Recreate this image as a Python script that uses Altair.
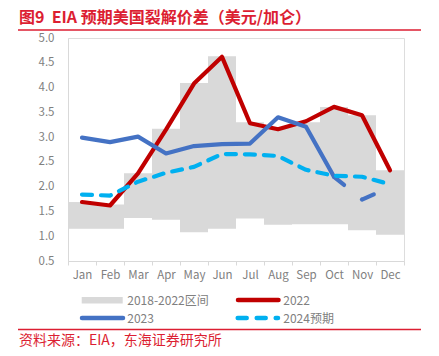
import altair as alt
import pandas as pd

# ---------------- data ----------------
months = ["Jan", "Feb", "Mar", "Apr", "May", "Jun", "Jul", "Aug", "Sep", "Oct", "Nov", "Dec"]
range_low = [1.15, 1.15, 1.37, 1.33, 1.08, 1.15, 1.36, 1.23, 1.24, 1.24, 1.12, 1.03]
range_high = [1.69, 1.64, 2.27, 3.17, 4.09, 4.63, 3.30, 3.20, 3.30, 3.61, 3.44, 2.33]
s2022 = [1.69, 1.62, 2.27, 3.15, 4.08, 4.62, 3.28, 3.16, 3.32, 3.61, 3.44, 2.33]
s2023 = [2.99, 2.90, 3.01, 2.67, 2.82, 2.86, 2.87, 3.40, 3.21, 2.20, 1.74, 1.99]
s2024 = [1.84, 1.82, 2.10, 2.28, 2.40, 2.66, 2.65, 2.62, 2.34, 2.22, 2.20, 2.05]
y_ticks = [0.5, 1.0, 1.5, 2.0, 2.5, 3.0, 3.5, 4.0, 4.5, 5.0]
legend_labels = ["2018-2022区间", "2022", "2023", "2024预期"]
title_text = "图9\u00a0\u00a0EIA\u00a0预期美国裂解价差（美元/加仑）"
source_text = "资料来源：EIA，东海证券研究所"
split_2023 = 9  # 2023 series dashed from Oct onward

# ---------------- styles ----------------
GREY_BAND = "#d9d9d9"
RED = "#c00000"
BLUE = "#4472c4"
LIGHT_BLUE = "#00b0f0"
TITLE_RED = "#dc1e32"
AXIS_TEXT = "#808080"
AXIS_LINE = "#d9d9d9"
FONT = "Noto Sans CJK SC"

idx = list(range(len(months)))
df = pd.DataFrame({
    "month": months, "idx": idx, "low": range_low, "high": range_high,
    "y2022": s2022, "y2023": s2023, "y2024": s2024,
})
df23a = df.iloc[: split_2023 + 1]
df23b = df.iloc[split_2023:]

x_enc = alt.X(
    "month:N", sort=months,
    scale=alt.Scale(paddingInner=0, paddingOuter=0),
    axis=alt.Axis(title=None, labelAngle=0, tickBand="extent", tickSize=4,
                  tickColor=AXIS_LINE, domainColor=AXIS_LINE, labelColor=AXIS_TEXT,
                  labelFontSize=11.5, labelPadding=4, grid=False, labelFont=FONT),
)
yscale = alt.Scale(domain=[0.5, 5.0], nice=False, zero=False)
y_axis = alt.Axis(title=None, values=y_ticks, format=".1f", ticks=False, tickSize=0,
                  domainColor=AXIS_LINE, labelColor=AXIS_TEXT, labelFontSize=11.5,
                  labelPadding=14, grid=False, labelFont=FONT)

base = alt.Chart(df)

bars = base.mark_bar(color=GREY_BAND).encode(
    x=x_enc,
    y=alt.Y("low:Q", scale=yscale, axis=y_axis),
    y2="high:Q",
)


def line(data, field, color, dash=None):
    kw = dict(color=color, strokeWidth=4.2, strokeCap="round", strokeJoin="round")
    if dash:
        kw["strokeDash"] = dash
    return alt.Chart(data).mark_line(**kw).encode(
        x=x_enc,
        y=alt.Y(f"{field}:Q", scale=yscale, axis=y_axis),
        order="idx:Q",
    )


l2022 = line(df, "y2022", RED)
l2023a = line(df23a, "y2023", BLUE)
l2023b = line(df23b, "y2023", BLUE, dash=[13, 23])
l2024 = line(df, "y2024", LIGHT_BLUE, dash=[10, 9])

# ---------------- annotations (title, rules, source, legend) ----------------
one = lambda v: alt.Chart(pd.DataFrame({"t": [v]}))

title = one(title_text).mark_text(
    align="left", baseline="alphabetic", fontSize=16, fontWeight="bold",
    color=TITLE_RED, font=FONT,
).encode(text="t:N", x=alt.value(-49), y=alt.value(-15.5))

top_rule = one(0).mark_rule(color=TITLE_RED, strokeWidth=1.5).encode(
    x=alt.value(-50), x2=alt.value(353), y=alt.value(-8))
bottom_rule = one(0).mark_rule(color=TITLE_RED, strokeWidth=1.5).encode(
    x=alt.value(-50), x2=alt.value(353), y=alt.value(291.5))

source = one(source_text).mark_text(
    align="left", baseline="alphabetic", fontSize=14, color=TITLE_RED, font=FONT,
).encode(text="t:N", x=alt.value(-49), y=alt.value(307))

leg_grey = one(legend_labels[0]).mark_rect(color=GREY_BAND).encode(
    x=alt.value(13.7), x2=alt.value(54.7), y=alt.value(259), y2=alt.value(265.5))
leg_red = one(legend_labels[1]).mark_rule(color=RED, strokeWidth=4.5, strokeCap="round").encode(
    x=alt.value(170), x2=alt.value(210.5), y=alt.value(262))
leg_blue = one(legend_labels[2]).mark_rule(color=BLUE, strokeWidth=4.5, strokeCap="round").encode(
    x=alt.value(14), x2=alt.value(55), y=alt.value(280))
leg_lblue = one(legend_labels[3]).mark_rule(color=LIGHT_BLUE, strokeWidth=4.5, strokeCap="round",
                                            strokeDash=[9, 10]).encode(
    x=alt.value(169.7), x2=alt.value(210), y=alt.value(280))


def leg_text(label, x, y):
    return one(label).mark_text(
        align="left", baseline="middle", fontSize=12, color=AXIS_TEXT, font=FONT,
    ).encode(text="t:N", x=alt.value(x), y=alt.value(y))


texts = [
    leg_text(legend_labels[0], 59.3, 262.5),
    leg_text(legend_labels[1], 215.3, 262.5),
    leg_text(legend_labels[2], 59.3, 280.5),
    leg_text(legend_labels[3], 215.3, 280.5),
]

chart = alt.layer(
    bars, l2022, l2023a, l2023b, l2024,
    title, top_rule, bottom_rule, source,
    leg_grey, leg_red, leg_blue, leg_lblue, *texts,
).properties(
    width=336, height=223,
    padding={"left": 68, "top": 38, "right": 35, "bottom": 95},
    autosize=alt.AutoSizeParams(type="none"),
    background="white",
).configure_view(strokeWidth=0).configure(font=FONT)

chart.save("out.html", embed_options={"renderer": "svg", "actions": False})
